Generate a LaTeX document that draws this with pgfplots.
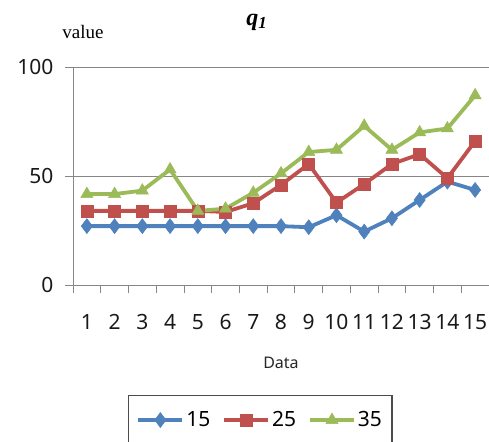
\documentclass[border=0pt]{standalone}
\usepackage{pgfplots}
\pgfplotsset{compat=1.18}
\usepackage{fontspec}
\setmainfont{Noto Sans}
\newfontfamily\seriffont{Liberation Serif}
\usetikzlibrary{calc}

\definecolor{sBlue}{HTML}{4F81BD}
\definecolor{sRed}{HTML}{C0504D}
\definecolor{sGreen}{HTML}{9BBB59}
\definecolor{axisGray}{HTML}{868686}

\begin{document}
\begin{tikzpicture}
\begin{axis}[
  scale only axis,
  width=416pt, height=218pt,
  xmin=0.5, xmax=15.5,
  ymin=0, ymax=100,
  clip=false,
  axis lines=left,
  axis line style={axisGray, line width=0.8pt, -},
  xtick={1,...,15},
  minor xtick={0.5,1.5,...,15.5},
  ytick={0,50,100},
  ymajorgrids,
  grid style={axisGray, line width=0.8pt},
  tick align=outside,
  major x tick style={draw=none},
  minor tick length=8pt,
  major tick length=8pt,
  tick style={axisGray, line width=0.8pt},
  /pgf/number format/assume math mode=true,
  tick label style={font=\fontsize{21}{24}\selectfont, text=black!90},
  xticklabel style={yshift=-18pt},
  yticklabel style={xshift=-8pt},
  legend style={
    at={(0.45,-0.505)}, anchor=north,
    draw=black!70, line width=1.2pt,
    font=\fontsize{21}{24}\selectfont,
    legend columns=3,
    inner xsep=8pt, inner ysep=14pt,
    /tikz/every even column/.append style={column sep=10pt},
  },
  legend cell align=left,
  legend image code/.code={%
    \draw[mark repeat=2, mark phase=2]
      plot coordinates {(0pt,0pt) (22pt,0pt) (44pt,0pt)};},
  every axis plot/.append style={line width=3.8pt},
]
% series 15
\addplot[color=sBlue, mark=diamond*, mark size=7.5pt,
  mark options={solid, line width=0.5pt}]
  coordinates {(1,27) (2,27) (3,27) (4,27) (5,27) (6,27) (7,27) (8,27)
               (9,26.5) (10,32) (11,24.5) (12,30.6) (13,39) (14,47.4) (15,43.6)};
\addlegendentry{15}
% series 25
\addplot[color=sRed, mark=square*, mark size=6pt,
  mark options={solid, line width=0.5pt}]
  coordinates {(1,34) (2,34) (3,34) (4,34) (5,34) (6,33.5) (7,37.5) (8,45.9)
               (9,55.5) (10,37.8) (11,46.3) (12,55.5) (13,60) (14,49) (15,66)};
\addlegendentry{25}
% series 35
\addplot[color=sGreen, mark=triangle*, mark size=7pt,
  mark options={solid, line width=0.5pt}]
  coordinates {(1,41.7) (2,41.7) (3,43.3) (4,53) (5,34) (6,35) (7,42.3) (8,51.2)
               (9,61) (10,62) (11,73) (12,62) (13,70) (14,71.8) (15,87)};
\addlegendentry{35}

\node[font=\seriffont\bfseries\itshape\fontsize{24}{26}\selectfont]
  at (rel axis cs:0.442,1.206) {q\textsubscript{1}};
\node[font=\seriffont\fontsize{19}{22}\selectfont]
  at (rel axis cs:0.024,1.16) {value};
\node[font=\fontsize{16}{18}\selectfont, text=black!85]
  at (rel axis cs:0.5,-0.355) {Data};
\end{axis}
\pgfresetboundingbox
\path[use as bounding box]
  ($(current axis.south west)+(-73pt,-156pt)$) rectangle
  ($(current axis.north east)+(0pt,67pt)$);
\end{tikzpicture}
\end{document}
